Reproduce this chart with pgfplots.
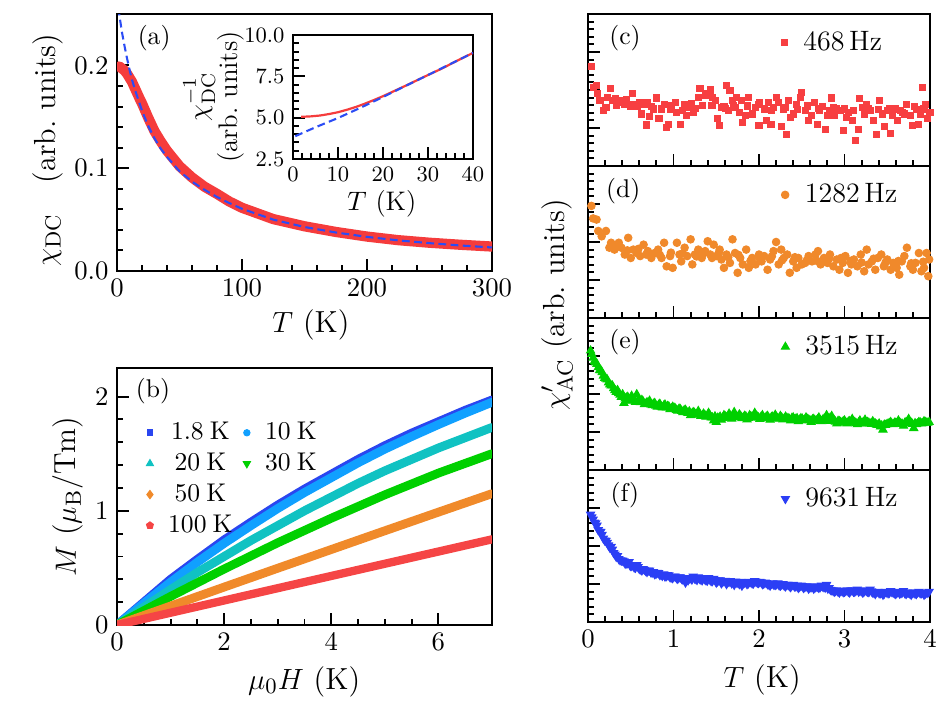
\documentclass[border=0pt]{standalone}
\usepackage{pgfplots}
\pgfplotsset{compat=1.18}
\definecolor{cA}{HTML}{F53C3C}
\definecolor{cB}{HTML}{2B4CF5}
\definecolor{c18}{HTML}{2A46F0}
\definecolor{c10}{HTML}{10A0FF}
\definecolor{c20}{HTML}{10C2C2}
\definecolor{c30}{HTML}{00D000}
\definecolor{c50}{HTML}{F08A2A}
\definecolor{c100}{HTML}{F54545}
\definecolor{cc}{HTML}{F73F41}
\definecolor{cd}{HTML}{F0892B}
\definecolor{ce}{HTML}{00D000}
\definecolor{cf}{HTML}{2B3EF5}
\pgfplotsset{
  myaxis/.style={
    scale only axis, anchor=south west,
    axis line style={line width=0.9pt},
    tick style={black, line width=0.8pt},
    major tick length=5pt, minor tick length=2.6pt,
    tick align=inside, tick pos=left,
    tick label style={font=\fontsize{10.5}{12}\selectfont},
    label style={font=\fontsize{12.5}{14}\selectfont},
  },
  lg/.style={legend image code/.code={\draw[##1, only marks, mark repeat=2, mark phase=2] plot coordinates {(0cm,0cm) (0.1cm,0cm) (0.2cm,0cm)};}},
  rp/.style={myaxis, width=140.22pt, height=62.32pt, xmin=0, xmax=4, ymin=0, ymax=4,
    xtick={0,1,2,3,4}, ytick={0,1,2,3,4}, yticklabels={}, minor x tick num=4, minor y tick num=4,
    legend style={draw=none, fill=none, at={(axis description cs:0.564,0.81)}, anchor=west,
      font=\fontsize{11.5}{13}\selectfont, inner sep=0pt}},
}
\begin{document}
\begin{tikzpicture}
\useasboundingbox (0,0) rectangle (387.45pt,290.28pt);

% ---------------- (a)
\begin{axis}[myaxis, at={(47.97pt,179.17pt)}, width=153.75pt, height=105.37pt,
  xmin=0, xmax=300, ymin=0, ymax=0.25, xtick={0,100,200,300}, ytick={0,0.1,0.2},
  minor x tick num=4, minor y tick num=4, scaled y ticks=false,
  yticklabel style={/pgf/number format/.cd, fixed, fixed zerofill, precision=1},
  xlabel={$T$ (K)}, ylabel={$\chi_{\mathrm{DC}}$\quad(arb.\ units)},
  xlabel style={at={(axis description cs:0.517,-0.21)}, anchor=center},
  ylabel style={at={(axis description cs:-0.184,0.47)}, anchor=center}]
\addplot[cA, line width=4.2pt, line join=round, line cap=round] coordinates {
(1.8,0.199)(4,0.197)(6,0.195)(8,0.192)(10,0.188)(12,0.184)(15,0.176)(18,0.168)(20,0.163)(25,0.149)(30,0.136)(35,0.126)(40,0.117)(50,0.102)(60,0.091)(70,0.082)(80,0.075)(90,0.0675)(100,0.0615)(125,0.0505)(150,0.0435)(175,0.038)(200,0.0335)(225,0.030)(250,0.0275)(275,0.0255)(300,0.0238)};
\addplot[cB, line width=0.85pt, dash pattern=on 3.2pt off 1.8pt] coordinates {
(0.3,0.268)(1,0.258)(2,0.248)(4,0.232)(6,0.219)(8,0.207)(10,0.196)(12,0.186)(15,0.174)(20,0.156)(25,0.141)(30,0.129)(35,0.119)(40,0.111)(50,0.097)(60,0.087)(70,0.079)(80,0.072)(90,0.066)(100,0.0605)(125,0.050)(150,0.0428)(175,0.0375)(200,0.0332)(225,0.0298)(250,0.0271)(275,0.0248)(300,0.0229)};
\node[font=\fontsize{10.5}{12}\selectfont] at (rel axis cs:0.099,0.907) {(a)};
\end{axis}

% ---------------- inset
\begin{axis}[myaxis, at={(120.13pt,225.09pt)}, width=73.8pt, height=50.84pt,
  axis background/.style={fill=white},
  xmin=0, xmax=40, ymin=2.5, ymax=10, xtick={0,10,20,30,40}, ytick={2.5,5,7.5,10},
  minor x tick num=4, minor y tick num=4,
  tick label style={font=\fontsize{9.2}{11}\selectfont},
  yticklabel style={/pgf/number format/.cd, fixed, fixed zerofill, precision=1},
  label style={font=\fontsize{11}{11}\selectfont},
  xlabel={$T$ (K)}, ylabel={$\chi^{-1}_{\mathrm{DC}}$\\(arb.\ units)},
  xlabel style={at={(axis description cs:0.494,-0.363)}, anchor=center},
  ylabel style={at={(axis description cs:-0.44,0.5)}, anchor=center, align=center}]
\addplot[cA, line width=0.9pt] coordinates {
(1.8,5.05)(4,5.08)(6,5.13)(8,5.22)(10,5.33)(12,5.48)(14,5.65)(16,5.85)(18,6.07)(20,6.30)(22,6.55)(25,6.93)(28,7.32)(30,7.58)(33,7.96)(36,8.38)(40,8.92)};
\addplot[cB, line width=0.85pt, dash pattern=on 3.2pt off 1.8pt] coordinates {
(0.5,3.88)(5,4.42)(10,4.98)(15,5.6)(20,6.25)(25,6.92)(30,7.58)(35,8.25)(40,8.92)};
\end{axis}

% ---------------- (b)
\begin{axis}[myaxis, at={(47.97pt,34.03pt)}, width=153.75pt, height=105.37pt,
  xmin=0, xmax=7, ymin=0, ymax=2.25, xtick={0,2,4,6}, ytick={0,1,2},
  minor x tick num=3, minor y tick num=4,
  xlabel={$\mu_0H$ (K)}, ylabel={$M$ ($\mu_{\mathrm{B}}$/Tm)},
  xlabel style={at={(axis description cs:0.499,-0.22)}, anchor=center},
  ylabel style={at={(axis description cs:-0.13,0.5)}, anchor=center},
  legend columns=2,
  legend style={draw=none, fill=none, at={(axis description cs:0.077,0.81)}, anchor=north west,
    font=\fontsize{10.5}{12}\selectfont, inner sep=0pt, row sep=0pt,
    /tikz/column 2/.style={column sep=1pt}}]
\addplot[forget plot, c18, line width=3.6pt, line cap=round] coordinates {
(0,0)(0.5,0.2)(1,0.40)(1.5,0.575)(2,0.745)(2.5,0.9)(3,1.05)(3.5,1.19)(4,1.32)(4.5,1.45)(5,1.57)(5.5,1.68)(6,1.78)(6.5,1.88)(7,1.97)};
\addplot[forget plot, c10, line width=3.6pt, line cap=round] coordinates {
(0,0)(0.5,0.19)(1,0.375)(1.5,0.55)(2,0.715)(2.5,0.87)(3,1.02)(3.5,1.16)(4,1.29)(4.5,1.42)(5,1.54)(5.5,1.65)(6,1.755)(6.5,1.855)(7,1.95)};
\addplot[forget plot, c20, line width=3.6pt, line cap=round] coordinates {
(0,0)(0.5,0.155)(1,0.31)(1.5,0.46)(2,0.60)(2.5,0.74)(3,0.87)(3.5,1.0)(4,1.12)(4.5,1.24)(5,1.35)(5.5,1.45)(6,1.55)(6.5,1.64)(7,1.73)};
\addplot[forget plot, c30, line width=3.6pt, line cap=round] coordinates {
(0,0)(1,0.25)(2,0.49)(3,0.72)(4,0.935)(5,1.14)(6,1.33)(7,1.50)};
\addplot[forget plot, c50, line width=3.6pt, line cap=round] coordinates {
(0,0)(1,0.166)(2,0.332)(3,0.497)(4,0.661)(5,0.825)(6,0.988)(7,1.15)};
\addplot[forget plot, c100, line width=3.4pt, line cap=round] coordinates {
(0,0)(3.5,0.376)(7,0.75)};
\addlegendimage{lg, only marks, mark=square*, c18, mark size=1.2pt}
\addlegendentry{\hspace{4pt}1.8\hspace{2.5pt}K}
\addlegendimage{lg, only marks, mark=*, c10, mark size=1.3pt}
\addlegendentry{\hspace{4pt}10\hspace{2.5pt}K}
\addlegendimage{lg, only marks, mark=triangle*, c20, mark size=1.7pt}
\addlegendentry{\hspace{4pt}20\hspace{2.5pt}K}
\addlegendimage{lg, only marks, mark=triangle*, c30, mark size=1.7pt, mark options={rotate=180}}
\addlegendentry{\hspace{4pt}30\hspace{2.5pt}K}
\addlegendimage{lg, only marks, mark=diamond*, c50, mark size=1.7pt}
\addlegendentry{\hspace{4pt}50\hspace{2.5pt}K}
\addlegendimage{empty legend}
\addlegendentry{}
\addlegendimage{lg, only marks, mark=pentagon*, c100, mark size=1.5pt}
\addlegendentry{\hspace{4pt}100\hspace{2.5pt}K}
\node[font=\fontsize{10.5}{12}\selectfont] at (rel axis cs:0.096,0.91) {(b)};
\end{axis}

% ---------------- (c)
\begin{axis}[rp, at={(241.08pt,222.22pt)}, xticklabels={}]
\addplot[lg, only marks, mark=square*, cc, mark size=1.25pt] coordinates {
(0.04,2.62)(0.06,2.06)(0.10,2.12)(0.11,1.90)(0.14,1.72)(0.18,1.46)(0.21,1.55)(0.23,1.81)(0.26,2.03)(0.29,1.72)(0.32,1.77)(0.35,1.68)(0.39,1.72)(0.43,1.63)(0.47,1.63)(0.50,1.56)(0.52,1.90)(0.55,1.63)(0.60,1.68)(0.63,1.37)(0.68,1.08)(0.69,1.68)(0.72,1.30)(0.74,1.56)(0.80,1.79)(0.83,1.24)(0.86,1.50)(0.89,1.63)(0.92,1.02)(0.94,1.10)(0.96,1.50)(1.02,1.68)(1.04,1.41)(1.08,1.09)(1.11,1.47)(1.15,1.32)(1.17,1.55)(1.21,1.65)(1.23,1.41)(1.29,1.81)(1.31,2.03)(1.34,1.59)(1.37,1.85)(1.40,1.90)(1.43,2.00)(1.46,1.81)(1.49,1.72)(1.51,1.24)(1.54,1.06)(1.56,1.55)(1.59,1.56)(1.62,2.12)(1.64,1.46)(1.66,1.99)(1.69,1.72)(1.72,1.55)(1.74,1.81)(1.77,1.41)(1.80,1.72)(1.81,1.15)(1.84,1.32)(1.88,1.81)(1.92,1.37)(1.96,1.55)(2.00,1.06)(2.01,1.68)(2.06,1.50)(2.09,1.19)(2.11,1.68)(2.14,1.10)(2.17,1.55)(2.20,1.81)(2.23,1.68)(2.26,1.03)(2.29,1.50)(2.32,0.84)(2.35,1.72)(2.37,1.28)(2.40,1.37)(2.44,1.63)(2.48,1.81)(2.50,1.94)(2.54,1.46)(2.58,1.19)(2.61,1.32)(2.65,1.68)(2.68,1.10)(2.71,1.46)(2.74,1.56)(2.78,0.97)(2.80,1.32)(2.83,1.46)(2.85,1.79)(2.88,1.32)(2.91,1.50)(2.95,1.46)(2.99,0.93)(3.02,1.28)(3.05,1.41)(3.09,1.19)(3.13,0.68)(3.16,0.97)(3.18,1.77)(3.21,1.55)(3.23,1.37)(3.26,1.63)(3.30,1.46)(3.34,1.19)(3.37,0.82)(3.41,1.72)(3.44,1.37)(3.47,1.03)(3.50,1.46)(3.54,0.86)(3.56,1.32)(3.60,1.50)(3.62,1.19)(3.66,1.46)(3.70,1.37)(3.73,1.63)(3.77,1.32)(3.79,1.06)(3.82,1.56)(3.86,1.10)(3.89,1.37)(3.91,2.06)(3.95,1.63)(3.97,1.24)(4.00,1.41)
(0.33,1.60)(0.45,1.75)(0.58,1.58)(0.66,1.62)(0.77,1.50)(0.98,1.58)(1.13,1.62)(1.26,1.52)(1.45,1.60)(1.61,1.52)(1.70,1.60)(1.86,1.58)(1.99,1.62)(2.15,1.45)(2.31,1.55)(2.45,1.48)(2.57,1.58)(2.70,1.52)(2.87,1.55)(3.00,1.50)(3.11,1.45)(3.28,1.52)(3.40,1.48)(3.53,1.52)(3.68,1.40)(3.84,1.48)(3.93,1.50)};
\addlegendentry{\hspace{4.5pt}468\,Hz}
\node[font=\fontsize{10.5}{12}\selectfont] at (rel axis cs:0.108,0.84) {(c)};
\end{axis}

% ---------------- (d)
\begin{axis}[rp, at={(241.08pt,159.9pt)}, xticklabels={}]
\addplot[lg, only marks, mark=*, cd, mark size=1.55pt] coordinates {
(0.04,2.95)(0.06,2.62)(0.10,2.59)(0.12,2.29)(0.16,2.15)(0.21,2.29)(0.25,1.85)(0.27,1.98)(0.31,1.80)(0.36,1.98)(0.39,1.85)(0.43,1.67)(0.47,2.11)(0.50,1.58)(0.53,1.80)(0.57,1.71)(0.61,1.63)(0.65,1.93)(0.68,1.67)(0.70,1.76)(0.74,1.58)(0.78,1.71)(0.82,1.80)(0.86,1.58)(0.89,1.98)(0.92,1.36)(0.96,1.63)(0.99,1.32)(1.04,1.98)(1.07,1.67)(1.09,1.49)(1.13,1.85)(1.16,1.63)(1.20,2.07)(1.22,1.41)(1.25,1.67)(1.29,1.80)(1.33,1.58)(1.37,1.76)(1.40,2.02)(1.43,1.67)(1.47,1.93)(1.50,1.63)(1.54,1.80)(1.56,1.54)(1.59,1.32)(1.62,1.67)(1.66,1.45)(1.69,2.07)(1.72,1.71)(1.75,1.19)(1.78,1.58)(1.81,1.41)(1.85,1.80)(1.88,1.32)(1.92,1.58)(1.96,1.41)(2.00,1.67)(2.03,1.49)(2.06,1.63)(2.10,1.27)(2.13,1.54)(2.17,1.76)(2.20,2.00)(2.23,1.41)(2.26,1.80)(2.29,1.58)(2.33,1.67)(2.36,1.19)(2.40,1.49)(2.44,1.32)(2.46,1.58)(2.50,1.41)(2.54,1.45)(2.58,1.63)(2.62,1.49)(2.66,1.67)(2.69,1.76)(2.72,1.41)(2.76,1.58)(2.80,1.45)(2.83,1.67)(2.87,1.36)(2.91,1.54)(2.94,1.27)(2.98,1.45)(3.01,1.63)(3.04,1.19)(3.08,1.41)(3.11,1.54)(3.15,1.36)(3.19,1.67)(3.23,1.23)(3.26,1.80)(3.28,1.41)(3.32,1.49)(3.36,1.27)(3.39,1.58)(3.43,1.67)(3.46,1.36)(3.50,1.54)(3.54,1.27)(3.57,1.45)(3.61,1.32)(3.64,1.14)(3.67,1.49)(3.70,1.63)(3.73,1.85)(3.77,1.36)(3.80,1.27)(3.83,1.45)(3.87,1.71)(3.90,1.23)(3.93,1.32)(3.96,1.71)(3.98,1.10)(3.99,1.54)
(0.34,1.90)(0.46,1.78)(0.59,1.82)(0.72,1.70)(0.84,1.66)(0.97,1.72)(1.11,1.70)(1.27,1.62)(1.35,1.70)(1.45,1.58)(1.53,1.72)(1.64,1.60)(1.76,1.66)(1.90,1.50)(2.01,1.56)(2.15,1.62)(2.27,1.52)(2.42,1.60)(2.56,1.52)(2.68,1.50)(2.82,1.56)(2.96,1.58)(3.07,1.50)(3.20,1.46)(3.34,1.56)(3.48,1.46)(3.63,1.50)(3.78,1.44)(3.92,1.48)};
\addlegendentry{\hspace{4.5pt}1282\,Hz}
\node[font=\fontsize{10.5}{12}\selectfont] at (rel axis cs:0.103,0.835) {(d)};
\end{axis}

% ---------------- (e)
\begin{axis}[rp, at={(241.08pt,97.58pt)}, xticklabels={},
  ylabel={$\chi'_{\mathrm{AC}}$ (arb.\ units)},
  ylabel style={at={(axis description cs:-0.0906,1.086)}, anchor=center}]
\addplot[lg, only marks, mark=triangle*, ce, mark size=1.9pt] coordinates {
(0.03,3.14)(0.06,2.95)(0.09,2.83)(0.12,2.70)(0.15,2.62)(0.18,2.48)(0.21,2.40)(0.24,2.30)(0.27,2.22)(0.30,2.15)(0.33,2.05)(0.36,2.02)(0.39,1.92)(0.42,1.76)(0.45,1.90)(0.48,1.82)(0.51,1.95)(0.54,1.86)(0.57,1.99)(0.60,1.80)(0.63,1.84)(0.66,1.73)(0.69,1.78)(0.72,1.82)(0.75,1.70)(0.78,1.76)(0.81,1.66)(0.84,1.74)(0.87,1.64)(0.90,1.72)(0.93,1.68)(0.96,1.60)(0.99,1.66)(1.02,1.62)(1.05,1.56)(1.08,1.60)(1.11,1.52)(1.14,1.58)(1.17,1.50)(1.20,1.44)(1.23,1.52)(1.26,1.46)(1.29,1.55)(1.32,1.42)(1.35,1.48)(1.38,1.40)(1.41,1.50)(1.44,1.38)(1.47,1.30)(1.50,1.26)(1.53,1.36)(1.56,1.32)(1.59,1.44)(1.62,1.38)(1.65,1.48)(1.68,1.35)(1.71,1.52)(1.74,1.40)(1.77,1.46)(1.80,1.36)(1.83,1.42)(1.86,1.33)(1.89,1.44)(1.92,1.38)(1.95,1.50)(1.98,1.40)(2.01,1.34)(2.04,1.44)(2.07,1.36)(2.10,1.42)(2.13,1.32)(2.16,1.40)(2.19,1.45)(2.22,1.36)(2.25,1.42)(2.28,1.33)(2.31,1.40)(2.34,1.36)(2.37,1.30)(2.40,1.38)(2.43,1.34)(2.46,1.28)(2.49,1.36)(2.52,1.30)(2.55,1.38)(2.58,1.32)(2.61,1.26)(2.64,1.34)(2.67,1.30)(2.70,1.38)(2.73,1.28)(2.76,1.34)(2.79,1.44)(2.82,1.36)(2.85,1.42)(2.88,1.30)(2.91,1.22)(2.94,1.28)(2.97,1.24)(3.00,1.30)(3.03,1.22)(3.06,1.28)(3.09,1.34)(3.12,1.26)(3.15,1.20)(3.18,1.30)(3.21,1.24)(3.24,1.32)(3.27,1.26)(3.30,1.22)(3.33,1.28)(3.36,1.22)(3.39,1.18)(3.42,1.14)(3.45,1.06)(3.48,1.18)(3.51,1.22)(3.54,1.26)(3.57,1.20)(3.60,1.24)(3.63,1.30)(3.66,1.22)(3.69,1.16)(3.72,1.26)(3.75,1.34)(3.78,1.24)(3.81,1.10)(3.84,1.20)(3.87,1.26)(3.90,1.22)(3.93,1.28)(3.96,1.24)(3.99,1.26)
(0.045,3.05)(0.075,2.86)(0.105,2.79)(0.135,2.62)(0.165,2.57)(0.195,2.42)(0.225,2.38)(0.255,2.25)(0.285,2.22)(0.315,2.10)(0.345,2.10)(0.375,1.98)(0.405,1.99)(0.435,1.88)(0.465,1.92)(0.495,1.83)(0.525,1.87)(0.555,1.79)(0.585,1.83)(0.615,1.78)(0.645,1.80)(0.675,1.74)(0.705,1.76)(0.735,1.72)(0.765,1.74)(0.795,1.69)(0.825,1.71)(0.855,1.66)(0.885,1.69)(0.915,1.64)(0.945,1.67)(0.975,1.62)(1.005,1.64)(1.035,1.58)(1.065,1.61)(1.095,1.55)(1.125,1.57)(1.155,1.52)(1.185,1.54)(1.215,1.48)(1.245,1.50)(1.275,1.45)(1.305,1.48)(1.335,1.43)(1.365,1.45)(1.395,1.41)(1.425,1.44)(1.455,1.38)(1.485,1.41)(1.515,1.37)(1.545,1.40)(1.575,1.37)(1.605,1.41)(1.635,1.38)(1.665,1.42)(1.695,1.38)(1.725,1.43)(1.755,1.39)(1.785,1.42)(1.815,1.38)(1.845,1.41)(1.875,1.37)(1.905,1.41)(1.935,1.38)(1.965,1.42)(1.995,1.38)(2.025,1.40)(2.055,1.37)(2.085,1.40)(2.115,1.36)(2.145,1.39)(2.175,1.36)(2.205,1.39)(2.235,1.35)(2.265,1.38)(2.295,1.35)(2.325,1.37)(2.355,1.34)(2.385,1.37)(2.415,1.33)(2.445,1.36)(2.475,1.32)(2.505,1.35)(2.535,1.32)(2.565,1.34)(2.595,1.31)(2.625,1.33)(2.655,1.30)(2.685,1.33)(2.715,1.29)(2.745,1.32)(2.775,1.30)(2.805,1.33)(2.835,1.29)(2.865,1.31)(2.895,1.27)(2.925,1.29)(2.955,1.26)(2.985,1.28)(3.015,1.25)(3.045,1.27)(3.075,1.24)(3.105,1.27)(3.135,1.23)(3.165,1.25)(3.195,1.22)(3.225,1.25)(3.255,1.22)(3.285,1.24)(3.315,1.21)(3.345,1.23)(3.375,1.19)(3.405,1.22)(3.435,1.17)(3.465,1.19)(3.495,1.20)(3.525,1.23)(3.555,1.21)(3.585,1.24)(3.615,1.22)(3.645,1.25)(3.675,1.21)(3.705,1.24)(3.735,1.22)(3.765,1.26)(3.795,1.21)(3.825,1.23)(3.855,1.22)(3.885,1.25)(3.915,1.23)(3.945,1.26)(3.975,1.24)};
\addlegendentry{\hspace{4.5pt}3515\,Hz}
\node[font=\fontsize{10.5}{12}\selectfont] at (rel axis cs:0.108,0.84) {(e)};
\end{axis}

% ---------------- (f)
\begin{axis}[rp, at={(241.08pt,35.26pt)},
  xlabel={$T$ (K)},
  xlabel style={at={(axis description cs:0.509,-0.38)}, anchor=center}]
\addplot[lg, only marks, mark=triangle*, mark options={rotate=180}, cf, mark size=1.9pt] coordinates {
(0.03,2.83)(0.06,2.70)(0.09,2.60)(0.12,2.42)(0.15,2.38)(0.18,2.20)(0.21,2.14)(0.24,2.02)(0.27,1.98)(0.30,1.82)(0.33,1.72)(0.36,1.66)(0.39,1.62)(0.42,1.60)(0.45,1.55)(0.48,1.58)(0.51,1.48)(0.54,1.44)(0.57,1.50)(0.60,1.40)(0.63,1.36)(0.66,1.38)(0.69,1.32)(0.72,1.36)(0.75,1.30)(0.78,1.26)(0.81,1.30)(0.84,1.24)(0.87,1.22)(0.90,1.20)(0.93,1.24)(0.96,1.18)(0.99,1.16)(1.02,1.20)(1.05,1.14)(1.08,1.18)(1.11,1.12)(1.14,1.04)(1.17,1.10)(1.20,1.16)(1.23,1.20)(1.26,1.14)(1.29,1.18)(1.32,1.12)(1.35,1.16)(1.38,1.10)(1.41,1.16)(1.44,1.08)(1.47,1.14)(1.50,1.04)(1.53,1.10)(1.56,1.02)(1.59,1.08)(1.62,1.00)(1.65,1.06)(1.68,1.02)(1.71,0.98)(1.74,1.04)(1.77,1.00)(1.80,0.96)(1.83,1.04)(1.86,1.00)(1.89,1.06)(1.92,1.02)(1.95,1.08)(1.98,1.04)(2.01,1.06)(2.04,1.00)(2.07,1.04)(2.10,1.00)(2.13,0.96)(2.16,1.02)(2.19,0.98)(2.22,1.02)(2.25,0.96)(2.28,1.00)(2.31,0.94)(2.34,0.98)(2.37,0.92)(2.40,0.98)(2.43,0.94)(2.46,0.90)(2.49,0.96)(2.52,0.90)(2.55,0.94)(2.58,0.88)(2.61,0.92)(2.64,0.88)(2.67,0.94)(2.70,0.90)(2.73,0.96)(2.76,0.92)(2.79,0.98)(2.82,0.90)(2.85,0.84)(2.88,0.80)(2.91,0.84)(2.94,0.78)(2.97,0.82)(3.00,0.80)(3.03,0.84)(3.06,0.78)(3.09,0.84)(3.12,0.80)(3.15,0.86)(3.18,0.82)(3.21,0.78)(3.24,0.84)(3.27,0.80)(3.30,0.86)(3.33,0.78)(3.36,0.74)(3.39,0.80)(3.42,0.76)(3.45,0.72)(3.48,0.80)(3.51,0.76)(3.54,0.82)(3.57,0.78)(3.60,0.74)(3.63,0.80)(3.66,0.76)(3.69,0.82)(3.72,0.74)(3.75,0.78)(3.78,0.72)(3.81,0.78)(3.84,0.74)(3.87,0.80)(3.90,0.76)(3.93,0.72)(3.96,0.78)(3.99,0.80)
(0.045,2.76)(0.075,2.62)(0.105,2.54)(0.135,2.38)(0.165,2.30)(0.195,2.15)(0.225,2.09)(0.255,1.96)(0.285,1.91)(0.315,1.78)(0.345,1.74)(0.375,1.63)(0.405,1.62)(0.435,1.54)(0.465,1.55)(0.495,1.48)(0.525,1.49)(0.555,1.43)(0.585,1.45)(0.615,1.39)(0.645,1.40)(0.675,1.35)(0.705,1.36)(0.735,1.31)(0.765,1.32)(0.795,1.27)(0.825,1.29)(0.855,1.24)(0.885,1.26)(0.915,1.21)(0.945,1.23)(0.975,1.18)(1.005,1.20)(1.035,1.16)(1.065,1.18)(1.095,1.14)(1.125,1.16)(1.155,1.12)(1.185,1.15)(1.215,1.12)(1.245,1.15)(1.275,1.11)(1.305,1.14)(1.335,1.10)(1.365,1.13)(1.395,1.09)(1.425,1.12)(1.455,1.08)(1.485,1.11)(1.515,1.07)(1.545,1.10)(1.575,1.06)(1.605,1.09)(1.635,1.05)(1.665,1.08)(1.695,1.04)(1.725,1.07)(1.755,1.03)(1.785,1.06)(1.815,1.02)(1.845,1.05)(1.875,1.02)(1.905,1.05)(1.935,1.02)(1.965,1.06)(1.995,1.03)(2.025,1.05)(2.055,1.01)(2.085,1.03)(2.115,0.99)(2.145,1.01)(2.175,0.98)(2.205,1.00)(2.235,0.97)(2.265,0.99)(2.295,0.96)(2.325,0.98)(2.355,0.95)(2.385,0.97)(2.415,0.94)(2.445,0.96)(2.475,0.93)(2.505,0.95)(2.535,0.92)(2.565,0.94)(2.595,0.91)(2.625,0.93)(2.655,0.91)(2.685,0.93)(2.715,0.92)(2.745,0.94)(2.775,0.91)(2.805,0.88)(2.835,0.85)(2.865,0.83)(2.895,0.82)(2.925,0.80)(2.955,0.82)(2.985,0.79)(3.015,0.82)(3.045,0.80)(3.075,0.83)(3.105,0.80)(3.135,0.83)(3.165,0.80)(3.195,0.82)(3.225,0.79)(3.255,0.82)(3.285,0.79)(3.315,0.81)(3.345,0.77)(3.375,0.79)(3.405,0.76)(3.435,0.78)(3.465,0.75)(3.495,0.78)(3.525,0.77)(3.555,0.79)(3.585,0.76)(3.615,0.78)(3.645,0.75)(3.675,0.78)(3.705,0.76)(3.735,0.78)(3.765,0.75)(3.795,0.77)(3.825,0.75)(3.855,0.78)(3.885,0.76)(3.915,0.78)(3.945,0.75)(3.975,0.77)};
\addlegendentry{\hspace{4.5pt}9631\,Hz}
\node[font=\fontsize{10.5}{12}\selectfont] at (rel axis cs:0.108,0.835) {(f)};
\end{axis}
\end{tikzpicture}
\end{document}
